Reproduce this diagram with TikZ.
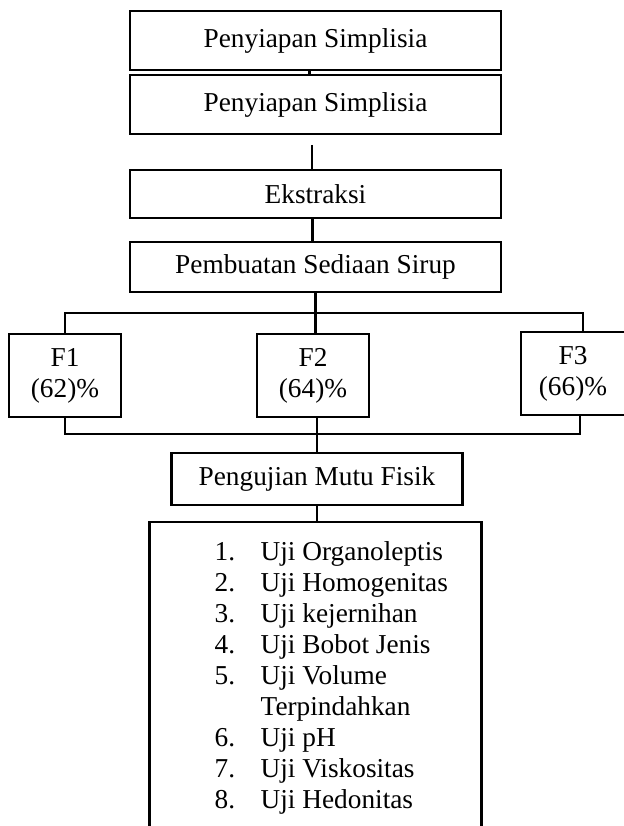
\documentclass[tikz,border=0pt]{standalone}
\usepackage{fontspec}
\setmainfont{Liberation Serif}
\usepackage{tikz}
\usetikzlibrary{positioning}
\tikzset{
flowbox/.style={draw, line width=2.2pt, minimum width=371pt, inner sep=0pt, outer sep=0pt}, % the wide step boxes
formbox/.style={draw, line width=2.2pt, minimum width=112pt, minimum height=83pt, align=center, inner sep=0pt, outer sep=0pt}, % one box per formula
listbox/.style={draw, line width=2.2pt, minimum width=332pt, minimum height=314pt, outer sep=0pt}, % box round the list of tests
link/.style={line width=2.6pt}, % the plain joining lines
}

\begin{document}
\begin{tikzpicture}[x=1pt, y=-1pt, font=\fontsize{27.3}{31}\selectfont]
    \useasboundingbox (0,0) rectangle (623,826);
    \node[flowbox, minimum height=59pt] (prep1) at (315.5,40.5) {Penyiapan Simplisia};
    \node[flowbox, minimum height=59pt, below=5pt of prep1] (prep2) {Penyiapan Simplisia};
    \node[flowbox, minimum height=48pt, below=36pt of prep2] (ekstrak) {Ekstraksi};
    \node[flowbox, minimum height=50pt, below=24pt of ekstrak] (sirup) {Pembuatan Sediaan Sirup};
    \node[formbox, below=42pt of sirup, xshift=-2.5pt] (f2) {F2\\(64)\%};
    \node[formbox, left=136pt of f2] (f1) {F1\\(62)\%};
    \node[formbox, right=152pt of f2, minimum width=104pt, yshift=2pt] (f3) {F3\\(66)\%};
    \node[flowbox, minimum width=291pt, minimum height=52pt, below=36pt of f2, xshift=4pt] (uji) {Pengujian Mutu Fisik};
    \node[listbox, below=17pt of uji, xshift=-1.5pt] (tests) {};
    \node[anchor=north west, inner sep=0pt] (items) at ([xshift=65pt, yshift=-16.3pt]tests.north west) {%
        \begin{tabular}{@{}p{46pt}@{}l@{}}
        1. & Uji Organoleptis\\
        2. & Uji Homogenitas\\
        3. & Uji kejernihan\\
        4. & Uji Bobot Jenis\\
        5. & Uji Volume\\
           & Terpindahkan\\
        6. & Uji pH\\
        7. & Uji Viskositas\\
        8. & Uji Hedonitas
        \end{tabular}};
    \coordinate (gap) at (312,145);
    \coordinate (split) at (315,313);
    \coordinate (merge) at (317,434);
    \draw[link]
    ([xshift=-6pt]prep1.south) -- ([xshift=-6pt]prep2.north)
    (gap) -- (gap |- ekstrak.north)
    ([xshift=-3pt]ekstrak.south) -- ([xshift=-3pt]sirup.north)
    (sirup.south) -- (sirup.south |- f2.north)
    (f1.north) |- (split) -| ([xshift=10pt]f3.north)
    (f1.south) |- (merge) -| ([xshift=7pt]f3.south)
    (uji.north |- f2.south) -- (uji.north)
    (uji.south) -- (uji.south |- tests.north);
\end{tikzpicture}
\end{document}
